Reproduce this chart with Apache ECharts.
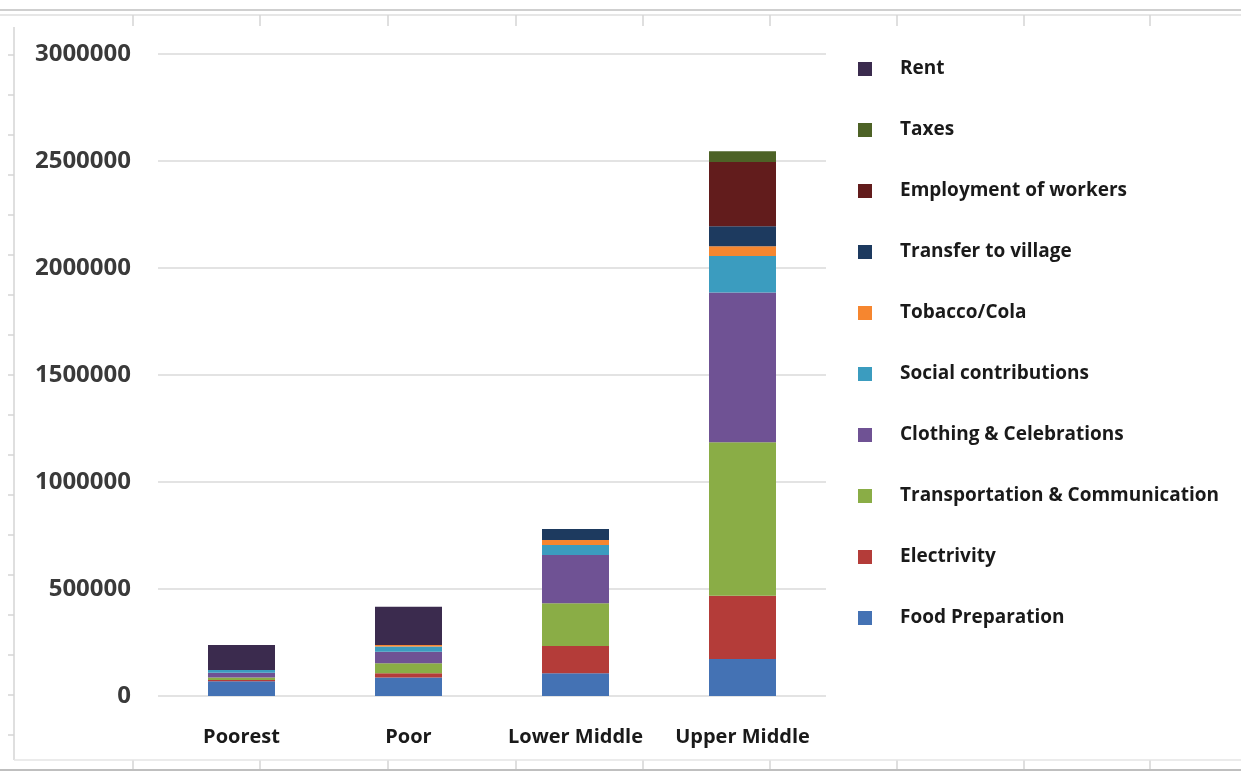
<!DOCTYPE html>
<html>
<head>
<meta charset="utf-8">
<title>Household expenditure by income group</title>
<script src="https://cdn.jsdelivr.net/npm/echarts@6/dist/echarts.min.js"></script>
<style>
  html, body { margin: 0; padding: 0; background: #ffffff; }
  #chart { width: 1241px; height: 771px; }
</style>
</head>
<body>
<div id="chart"></div>
<script>
// Income groups along the x axis
const categories = ['Poorest', 'Poor', 'Lower Middle', 'Upper Middle'];

// Expenditure per item and income group (stacked bottom to top)
const foodPreparation = [69000, 87000, 106000, 173000];
const electrivity = [6000, 19000, 128000, 296000];
const transportation = [12000, 47000, 199000, 717000];
const clothing = [22000, 54000, 226000, 699000];
const socialContributions = [12000, 24000, 47000, 171000];
const tobaccoCola = [0, 7000, 23000, 46000];
const transferToVillage = [0, 0, 51000, 93000];
const employmentOfWorkers = [0, 0, 0, 300000];
const taxes = [0, 0, 0, 51000];
const rent = [117000, 179000, 0, 0];

// Value axis ticks
const yTicks = [0, 500000, 1000000, 1500000, 2000000, 2500000, 3000000];

const seriesDefs = [
  { name: 'Food Preparation', data: foodPreparation, color: '#4472b4' },
  { name: 'Electrivity', data: electrivity, color: '#b43c39' },
  { name: 'Transportation & Communication', data: transportation, color: '#8aad46' },
  { name: 'Clothing & Celebrations', data: clothing, color: '#6f5294' },
  { name: 'Social contributions', data: socialContributions, color: '#3b9cbf' },
  { name: 'Tobacco/Cola', data: tobaccoCola, color: '#f6862f' },
  { name: 'Transfer to village', data: transferToVillage, color: '#1d3a5f' },
  { name: 'Employment of workers', data: employmentOfWorkers, color: '#621c1c' },
  { name: 'Taxes', data: taxes, color: '#4d6226' },
  { name: 'Rent', data: rent, color: '#3b2b4e' }
];

const FONT = '"Open Sans", "Liberation Sans", sans-serif';
const frameColor = '#d4d4d4';

// Spreadsheet frame around the chart object
const frame = [];
frame.push({ type: 'line', shape: { x1: 0, y1: 10, x2: 1241, y2: 10 }, style: { stroke: '#cfcfcf', lineWidth: 2 } });
frame.push({ type: 'line', shape: { x1: 0, y1: 15, x2: 1241, y2: 15 }, style: { stroke: '#dedede', lineWidth: 1.5 } });
[133, 260, 388, 516, 643, 770, 897, 1024, 1150].forEach(function (x) {
  frame.push({ type: 'line', shape: { x1: x, y1: 15, x2: x, y2: 26 }, style: { stroke: frameColor, lineWidth: 1.5 } });
  frame.push({ type: 'line', shape: { x1: x, y1: 760, x2: x, y2: 770 }, style: { stroke: frameColor, lineWidth: 1.5 } });
});
frame.push({ type: 'line', shape: { x1: 14, y1: 27, x2: 14, y2: 760 }, style: { stroke: frameColor, lineWidth: 1.5 } });
frame.push({ type: 'line', shape: { x1: 14, y1: 760, x2: 1241, y2: 760 }, style: { stroke: '#e4e4e4', lineWidth: 1.5 } });
frame.push({ type: 'line', shape: { x1: 0, y1: 770, x2: 1241, y2: 770 }, style: { stroke: '#bfbfbf', lineWidth: 2 } });
for (let y = 55; y < 760; y += 40) {
  frame.push({ type: 'line', shape: { x1: 8, y1: y, x2: 14, y2: y }, style: { stroke: frameColor, lineWidth: 1.5 } });
}

const chart = echarts.init(document.getElementById('chart'));

chart.setOption({
  backgroundColor: '#ffffff',
  animation: false,
  textStyle: { fontFamily: FONT },
  graphic: frame,
  grid: { left: 158, right: 415, top: 54, bottom: 75, containLabel: false },
  legend: {
    orient: 'vertical',
    left: 858,
    top: 59,
    padding: 0,
    itemWidth: 14,
    itemHeight: 14,
    itemGap: 41,
    icon: 'rect',
    data: seriesDefs.map(function (s) { return s.name; }).reverse(),
    textStyle: {
      fontFamily: FONT,
      fontSize: 19,
      fontWeight: 'bold',
      color: '#1a1a1a',
      lineHeight: 20,
      padding: [0, 0, 0, 23]
    }
  },
  xAxis: {
    type: 'category',
    data: categories,
    axisLine: { show: false },
    axisTick: { show: false },
    axisLabel: {
      interval: 0,
      hideOverlap: false,
      margin: 31,
      fontFamily: FONT,
      fontSize: 20,
      fontWeight: 'bold',
      color: '#1a1a1a'
    }
  },
  yAxis: {
    type: 'value',
    min: yTicks[0],
    max: yTicks[yTicks.length - 1],
    interval: yTicks[1] - yTicks[0],
    axisLine: { show: false },
    axisTick: { show: false },
    axisLabel: {
      margin: 27,
      fontFamily: FONT,
      fontSize: 24,
      fontWeight: 'bold',
      color: '#3a3a3a',
      formatter: function (v) { return String(v); }
    },
    splitLine: { lineStyle: { color: '#e3e3e3', width: 2 } }
  },
  series: seriesDefs.map(function (s) {
    return {
      name: s.name,
      type: 'bar',
      stack: 'total',
      barWidth: 67,
      data: s.data,
      itemStyle: { color: s.color },
      emphasis: { disabled: true }
    };
  })
});
</script>
</body>
</html>
